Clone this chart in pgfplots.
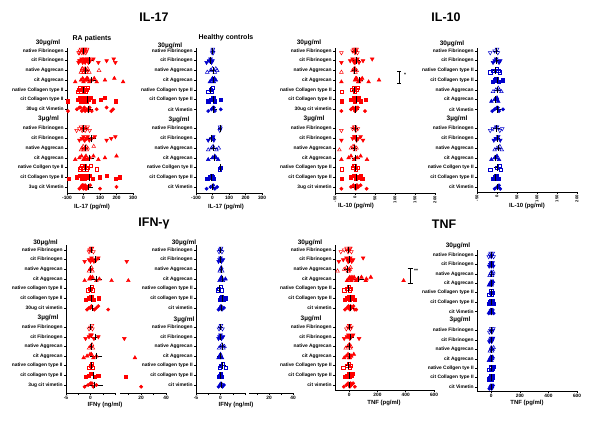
\documentclass[border=0pt]{standalone}
\usepackage{pgfplots}
\pgfplotsset{compat=1.18}
\usepackage{fontspec}
\setmainfont{Liberation Sans}
\definecolor{rd}{RGB}{255,0,0}
\definecolor{bl}{RGB}{0,0,205}
\newcommand\catf{\fontsize{4.9}{5}\selectfont\bfseries}
\newcommand\tkf{\fontsize{4.8}{5}\selectfont\bfseries}
\newcommand\rtf{\fontsize{4.2}{5}\selectfont\bfseries}
\newcommand\labf{\fontsize{6}{7}\selectfont\bfseries}
\newcommand\hdf{\fontsize{6.5}{7}\selectfont\bfseries}
\pgfplotsset{
 gp/.style={scale only axis, anchor=south west, axis x line*=bottom, axis y line*=left,
   tick align=outside, major tick length=2bp, tick style={black, line width=0.5pt},
   axis line style={black, line width=0.6pt}, /pgf/number format/assume math mode=true,
   xticklabel style={font=\tkf, inner sep=1pt}, yticklabel style={font=\catf, inner sep=1.2pt},
   clip=false, ytick={-15,-14,-13,-12,-11,-10,-9,-7,-6,-5,-4,-3,-2,-1}},
 nfib/.style={mark=triangle, mark size=2.15, mark options={rotate=180}},
 cfib/.style={mark=triangle*, mark size=2.15, mark options={rotate=180}},
 nagg/.style={mark=triangle, mark size=2.15},
 cagg/.style={mark=triangle*, mark size=2.15},
 ncol/.style={mark=square, mark size=1.6},
 ccol/.style={mark=square*, mark size=1.6},
 cvim/.style={mark=*, mark size=1.65},
}
\newcommand\R[3]{\addplot[only marks, color=\pc, line width=0.5pt, #2] table[row sep=\\, y expr={-#1+0.18*(mod(\coordindex,3)-1)}]{x\\#3\\};}
\newcommand\M[3]{\addplot[only marks, black, mark=|, mark size=3.3, mark options={line width=0.7pt}, error bars/.cd, x dir=both, x explicit, error mark options={mark size=1.9, line width=0.55pt, black}, error bar style={line width=0.55pt, black}] coordinates {(#2,-#1) +- (#3,0)};}
\begin{document}
\begin{tikzpicture}[x=1bp,y=1bp]
\path[use as bounding box] (0,0) rectangle (600,421);
% ---------- A: IL-17 RA
\def\pc{rd}
\begin{axis}[gp, at={(67bp,228bp)}, width=66bp, height=144.9bp, xmin=-100, xmax=300, ymin=-15.62, ymax=-0.7, xtick={-100,0,100,200,300},
 yticklabels={3ug cit Vimetin, cit Collagen type II, native Collgen tye II, cit Aggrecan, native Aggrecan, cit Fibrinogen, native Fibrinogen, 30ug cit Vimetin, cit Collagen type II, native Collagen type II, cit Aggrecan, native Aggrecan, cit Fibrinogen, native Fibrinogen}]
\R{1}{nfib}{-30\\-22\\-15\\-10\\-6\\-2\\2\\5\\9\\14\\18\\22\\-25\\0\\7}
\R{2}{cfib}{-30\\-20\\-12\\-5\\0\\5\\10\\15\\22\\30\\40\\60\\90\\140\\183\\193\\-25\\33}
\R{3}{nagg}{-15\\-10\\-5\\0\\5\\10\\15\\20\\25\\35\\94\\-8\\3}
\R{4}{cagg}{-50\\-15\\-5\\0\\15\\25\\35\\48\\65\\80\\130\\187\\240\\10\\20}
\R{5}{ncol}{-35\\-28\\-20\\-15\\-10\\-5\\0\\5\\10\\15\\20\\27}
\R{6}{ccol}{-94\\-35\\-25\\-15\\-5\\0\\5\\10\\15\\20\\30\\45\\60\\106\\127\\193\\-10\\25}
\R{7}{cvim}{-94\\-40\\-25\\-10\\0\\5\\10\\20\\37\\50\\80\\140\\168\\179\\-18\\30}
\R{9}{nfib}{-42\\-25\\-15\\-8\\0\\5\\10\\18\\25\\37\\-5\\2}
\R{10}{cfib}{-25\\-10\\0\\8\\15\\25\\35\\50\\68\\140\\168\\193\\5\\20}
\R{11}{nagg}{-15\\-8\\-2\\3\\8\\15\\20\\25\\62\\0\\10}
\R{12}{cagg}{-50\\-25\\-12\\0\\8\\15\\25\\38\\60\\90\\130\\200\\5}
\R{13}{ncol}{-25\\-15\\-8\\0\\5\\10\\18\\25\\42\\79\\-3}
\R{14}{ccol}{-87\\-42\\-25\\-10\\0\\5\\10\\20\\35\\55\\100\\140\\193\\220\\15\\-5}
\R{15}{cvim}{-25\\-15\\-8\\0\\5\\10\\18\\25\\40\\100\\200\\-3\\12}
\M{1}{0}{5}\M{2}{38}{15}\M{3}{13}{7}\M{4}{46}{19}\M{5}{-3}{5}\M{6}{22}{15}\M{7}{30}{18}
\M{9}{1}{6}\M{10}{48}{18}\M{11}{11}{6}\M{12}{37}{18}\M{13}{12}{9}\M{14}{38}{20}\M{15}{28}{16}
\end{axis}
% ---------- B: IL-17 HC
\def\pc{bl}
\begin{axis}[gp, at={(196bp,228bp)}, width=66bp, height=144.9bp, xmin=-100, xmax=300, ymin=-15.62, ymax=-0.7, xtick={-100,0,100,200,300},
 yticklabels={cit Vimetin, cit Collagen type II, native Collgen tye II, cit Aggrecan, native Aggrecan, cit Fibrinogen, native Fibrinogen, cit Vimetin, cit Collagen type II, native Collagen type II, cit Aggrecan, native Aggrecan, cit Fibrinogen, native Fibrinogen}]
\R{1}{nfib}{-2\\0\\2\\4}
\R{2}{cfib}{-36\\-20\\-12\\-6\\0}
\R{3}{nagg}{-32\\-12\\0\\14\\28\\20}
\R{4}{cagg}{-16\\-6\\0\\8\\20\\12}
\R{5}{ncol}{-26\\-12\\0\\-5}
\R{6}{ccol}{-26\\-12\\0\\14\\48\\5}
\R{7}{cvim}{-26\\-6\\4\\14\\50\\8}
\R{9}{nfib}{44\\48\\46}
\R{10}{cfib}{-26\\-6\\4\\8\\0}
\R{11}{nagg}{-26\\-6\\4\\24\\38}
\R{12}{cagg}{-26\\0\\14\\34\\22}
\R{13}{ncol}{44\\48}
\R{14}{ccol}{-32\\-16\\-6\\4\\0}
\R{15}{cvim}{-36\\-12\\4\\14\\28}
\M{1}{1}{1}\M{2}{-15}{6}\M{3}{3}{9}\M{4}{3}{5}\M{5}{-11}{6}\M{6}{5}{10}\M{7}{7}{10}
\M{9}{46}{1}\M{10}{-4}{6}\M{11}{7}{11}\M{12}{9}{10}\M{13}{46}{1}\M{14}{-10}{6}\M{15}{0}{11}
\end{axis}
% ---------- C: IL-10 RA
\def\pc{rd}
\begin{axis}[gp, at={(335bp,228bp)}, width=100bp, height=144.9bp, xmin=-50, xmax=200, ymin=-15.62, ymax=-0.7, xtick={-50,0,50,100,150,200},
 xticklabel style={rotate=90, anchor=east, font=\rtf},
 yticklabels={3ug cit vimetin, cit Collagen type II, native Collagen type II, cit Aggrecan, native Aggrecan, cit Fibrinogen, native Fibrinogen, 30ug cit vimetin, cit Collagen type II, native Collagen type II, cit Aggrecan, native Aggrecan, cit Fibrinogen, native Fibrinogen}]
\R{1}{nfib}{-34\\-6\\-3\\0\\2\\4\\6\\-1\\1}
\R{2}{cfib}{-34\\-12\\-6\\-2\\2\\6\\10\\20\\43\\0\\4}
\R{3}{nagg}{-34\\-6\\-2\\1\\4\\0}
\R{4}{cagg}{-34\\0\\4\\8\\14\\18\\34\\60\\2\\10}
\R{5}{ncol}{-34\\-9\\-4\\0\\4\\6}
\R{6}{ccol}{-34\\-10\\-4\\0\\4\\8\\14\\26\\2}
\R{7}{cvim}{-34\\-10\\-5\\0\\4\\7\\25\\-2\\2}
\R{9}{nfib}{-34\\-6\\-2\\2\\7\\0}
\R{10}{cfib}{-34\\-6\\0\\4\\8\\14\\20\\2\\-2}
\R{11}{nagg}{-39\\-10\\-5\\0\\4\\-2}
\R{12}{cagg}{-34\\-16\\-10\\-2\\6\\14\\30\\2}
\R{13}{ncol}{-34\\-6\\-2\\2\\6\\0}
\R{14}{ccol}{-34\\-10\\-4\\2\\8\\14\\18\\4}
\R{15}{cvim}{-34\\-10\\-4\\2\\8\\14\\29\\0\\5}
\M{1}{0}{2}\M{2}{3}{5}\M{3}{-1}{2}\M{4}{10}{6}\M{5}{-2}{2}\M{6}{3}{4}\M{7}{0}{4}
\M{9}{0}{3}\M{10}{3}{3}\M{11}{-2}{3}\M{12}{2}{5}\M{13}{0}{2}\M{14}{4}{3}\M{15}{2}{4}
\end{axis}
% ---------- D: IL-10 HC
\def\pc{bl}
\begin{axis}[gp, at={(477bp,229bp)}, width=100bp, height=143.9bp, xmin=-50, xmax=200, ymin=-15.51, ymax=-0.7, xtick={-50,0,50,100,150,200},
 xticklabel style={rotate=90, anchor=east, font=\rtf},
 yticklabels={cit Vimetin, cit Collagen type II, native Collgen tye II, cit Aggrecan, native Aggrecan, cit Fibrinogen, native Fibrinogen, cit Vimetin, cit Aggrecan, native Aggrecan, cit Collagen type II, native Collagen type II, cit Fibrinogen, native Fibrinogen}]
\R{1}{nfib}{-17\\-6\\0\\2}
\R{2}{cfib}{-10\\-6\\-2\\5\\8}
\R{3}{ncol}{-17\\-10\\0\\7\\3}
\R{4}{ccol}{-10\\-6\\-2\\5\\15\\0}
\R{5}{nagg}{-10\\-3\\3\\11\\6}
\R{6}{cagg}{-14\\-6\\0\\3\\-2}
\R{7}{cvim}{-12\\-6\\0\\5\\15\\2}
\R{9}{nfib}{-17\\-10\\-2\\7\\13\\0}
\R{10}{cfib}{-8\\-3\\3\\8\\0}
\R{11}{nagg}{-6\\0\\7\\12\\4}
\R{12}{cagg}{-14\\-6\\0\\5\\-2}
\R{13}{ncol}{-17\\0\\7\\10}
\R{14}{ccol}{-10\\-6\\-2\\3\\0}
\R{15}{cvim}{-6\\0\\5\\8\\3}
\M{1}{-2}{3}\M{2}{-1}{3}\M{3}{-3}{4}\M{4}{0}{3}\M{5}{1}{3}\M{6}{-3}{3}\M{7}{1}{4}
\M{9}{-1}{4}\M{10}{0}{2}\M{11}{3}{3}\M{12}{-3}{3}\M{13}{0}{4}\M{14}{-3}{2}\M{15}{2}{2}
\end{axis}
% ---------- E: IFN RA (segment 1)
\def\pc{rd}
\begin{axis}[gp, at={(66bp,28bp)}, width=49bp, height=148bp, xmin=-5, xmax=5, ymin=-15.83, ymax=-0.48,
 xtick={-5,-2.5,0,2.5,5}, xticklabels={-5,,0,,},
 yticklabels={3ug cit vimetin, cit collagen type II, native collagen type II, cit Aggrecan, native Aggrecan, cit Fibrinogen, native Fibrinogen, 30ug cit vimetin, cit collagen type II, native collagen type II, cit Aggrecan, native Aggrecan, cit Fibrinogen, native Fibrinogen}]
\R{1}{nfib}{-0.3\\0\\0.3\\0.6\\-0.2\\0.1}
\R{2}{cfib}{-1.2\\-0.3\\0.2\\0.7\\1.2\\1.6\\0\\0.4}
\R{3}{nagg}{-0.3\\0\\0.2\\0.4\\-0.1}
\R{4}{cagg}{-1.2\\-0.2\\0.4\\1.2\\1.8\\0\\4.3}
\R{5}{ncol}{-0.5\\-0.2\\0.2\\0.5\\0}
\R{6}{ccol}{-1.0\\-0.3\\0.2\\0.7\\1.7\\0}
\R{7}{cvim}{-0.7\\-0.3\\0.2\\0.8\\1.2\\1.6\\3.6\\0}
\R{9}{nfib}{-0.3\\0\\0.3\\0.4}
\R{10}{cfib}{-1.0\\-0.3\\0.2\\0.7\\1.6\\0}
\R{11}{nagg}{-0.3\\0\\0.3\\0.5\\0.1}
\R{12}{cagg}{-1.4\\-0.7\\-0.1\\0.6\\1.2\\0.2}
\R{13}{ncol}{-0.3\\0\\0.3\\0.5}
\R{14}{ccol}{-1.0\\-0.3\\0.2\\0.9\\1.6\\0}
\R{15}{cvim}{-1.2\\-0.5\\0\\0.6\\1.2\\0.3}
\M{1}{0.1}{0.1}\M{2}{0.9}{0.6}\M{3}{0.05}{0.1}\M{4}{1.2}{0.8}\M{5}{0}{0.1}\M{6}{0.2}{0.3}\M{7}{0.4}{0.4}
\M{9}{0.05}{0.1}\M{10}{0.9}{0.5}\M{11}{0.1}{0.1}\M{12}{1.1}{0.9}\M{13}{0.1}{0.1}\M{14}{0.6}{0.5}\M{15}{0.7}{1.4}
\end{axis}
% ---------- E: IFN RA (segment 2)
\begin{axis}[gp, at={(120bp,28bp)}, width=46bp, height=148bp, xmin=3, xmax=40, ymin=-15.83, ymax=-0.48,
 axis y line=none, ytick=\empty, xtick={10,20,30,40}, xticklabels={,20,,40}]
\R{2}{cfib}{8.4}
\R{4}{cagg}{9.7}
\R{10}{cfib}{6.5}
\R{12}{cagg}{15}
\R{14}{ccol}{7.6}
\R{15}{cvim}{20}
\end{axis}
% ---------- F: IFN HC (segment 1)
\def\pc{bl}
\begin{axis}[gp, at={(196bp,28bp)}, width=49bp, height=148bp, xmin=-5, xmax=5, ymin=-15.83, ymax=-0.48,
 xtick={-5,-2.5,0,2.5,5}, xticklabels={-5,,0,,},
 yticklabels={cit vimetin, cit collagen type II, native collagen type II, cit Aggrecan, native Aggrecan, cit Fibrinogen, native Fibrinogen, cit vimetin, cit collagen type II, native collagen type II, cit Aggrecan, native Aggrecan, cit Fibrinogen, native Fibrinogen}]
\R{1}{nfib}{-0.3\\-0.1\\0.1\\0.3\\0}
\R{2}{cfib}{-0.4\\-0.2\\0\\0.2\\0.5}
\R{3}{nagg}{-0.15\\0\\0.15\\0.35}
\R{4}{cagg}{-0.2\\0\\0.2\\0.5\\1.0}
\R{5}{ncol}{-0.55\\-0.3\\0\\0.25}
\R{6}{ccol}{-0.15\\0.1\\0.3\\0.6\\1.1}
\R{7}{cvim}{-0.4\\-0.1\\0.1\\0.3\\0.7}
\R{9}{nfib}{-0.3\\-0.1\\0.1\\0.4}
\R{10}{cfib}{-0.4\\-0.2\\0\\0.2\\0.5}
\R{11}{nagg}{-0.3\\0\\0.3\\0.6\\0.8}
\R{12}{cagg}{-0.4\\-0.2\\0\\0.3}
\R{13}{ncol}{-0.15\\0.1\\0.5\\1.1}
\R{14}{ccol}{-0.3\\-0.1\\0.1\\0.3}
\R{15}{cvim}{-0.4\\-0.1\\0.1\\0.4\\0.7}
\M{1}{0}{0.1}\M{2}{0}{0.15}\M{3}{0.1}{0.1}\M{4}{0.3}{0.2}\M{5}{-0.15}{0.15}\M{6}{0.4}{0.2}\M{7}{0.1}{0.2}
\M{9}{0}{0.15}\M{10}{0}{0.15}\M{11}{0.3}{0.2}\M{12}{-0.1}{0.15}\M{13}{0.4}{0.25}\M{14}{0}{0.1}\M{15}{0.1}{0.2}
\end{axis}
% ---------- F: IFN HC (segment 2)
\begin{axis}[gp, at={(249bp,28bp)}, width=44bp, height=148bp, xmin=3.3, xmax=40, ymin=-15.83, ymax=-0.48,
 axis y line=none, ytick=\empty, xtick={10,20,30,40}, xticklabels={,20,,40}]
\addplot[draw=none] coordinates {(20,-8)};
\end{axis}
% ---------- G: TNF RA
\def\pc{rd}
\begin{axis}[gp, at={(335bp,31bp)}, width=99bp, height=144.8bp, xmin=-100, xmax=600, ymin=-15.52, ymax=-0.5, xtick={0,200,400,600},
 yticklabels={cit vimetin, cit Collagen type II, native Collagen type II, cit Aggrecan, native Aggrecan, cit Fibrinogen, native Fibrinogen, cit vimetin, cit Collagen type II, native Collagen type II, cit Aggrecan, native Aggrecan, cit Fibrinogen, native Fibrinogen}]
\R{1}{nfib}{-59\\-35\\-18\\-8\\0\\8\\16\\-4\\4}
\R{2}{cfib}{-73\\-42\\-19\\-8\\0\\8\\18\\28\\99\\-3\\5}
\R{3}{nagg}{-82\\-35\\-18\\-8\\0\\10\\-3\\4}
\R{4}{cagg}{-15\\-5\\5\\15\\25\\35\\50\\60\\87\\117\\122\\153\\385\\10\\20}
\R{5}{ncol}{-35\\-15\\-5\\3\\12\\0}
\R{6}{ccol}{-30\\-15\\-5\\5\\15\\25\\40\\0\\10}
\R{7}{cvim}{-30\\-15\\-5\\5\\15\\30\\50\\0\\10\\40}
\R{9}{nfib}{-20\\-8\\0\\8\\16\\3}
\R{10}{cfib}{-35\\-15\\-5\\5\\15\\28\\70\\0}
\R{11}{nagg}{-25\\-10\\0\\8\\12\\3}
\R{12}{cagg}{-35\\-20\\-8\\5\\15\\33\\0\\10}
\R{13}{ncol}{-42\\-15\\-5\\3\\12\\0}
\R{14}{ccol}{-30\\-15\\-5\\5\\15\\28\\0}
\R{15}{cvim}{-38\\-20\\-8\\5\\15\\28\\40\\0\\10}
\M{1}{-8}{8}\M{2}{1}{13}\M{3}{-15}{11}\M{4}{67}{26}\M{5}{-7}{7}\M{6}{5}{7}\M{7}{10}{8}
\M{9}{0}{5}\M{10}{8}{11}\M{11}{-2}{5}\M{12}{0}{7}\M{13}{-8}{7}\M{14}{0}{7}\M{15}{4}{8}
\end{axis}
% ---------- H: TNF HC
\def\pc{bl}
\begin{axis}[gp, at={(477bp,30bp)}, width=100bp, height=141bp, xmin=-100, xmax=600, ymin=-15.42, ymax=-0.47, xtick={0,200,400,600},
 yticklabels={cit Vimetin, cit Collagen type II, native Collgen tye II, cit Aggrecan, native Aggrecan, cit Fibrinogen, native Fibrinogen, cit Vimetin, cit Collagen type II, native Collagen type II, cit Aggrecan, native Aggrecan, cit Fibrinogen, native Fibrinogen}]
\R{1}{nfib}{-18\\-10\\-4\\0\\4\\10\\16}
\R{2}{cfib}{-15\\-8\\-3\\0\\4\\9\\14}
\R{3}{nagg}{-12\\-6\\0\\5\\10\\14}
\R{4}{cagg}{-16\\-8\\-2\\2\\6\\12}
\R{5}{ncol}{-14\\-6\\0\\4\\10}
\R{6}{ccol}{-18\\-10\\-4\\0\\4\\10\\16}
\R{7}{cvim}{-18\\-10\\-4\\0\\4\\10\\16}
\R{9}{nfib}{-14\\-6\\0\\4\\10\\14}
\R{10}{cfib}{-14\\-8\\-2\\2\\8\\12}
\R{11}{nagg}{-10\\-4\\0\\5\\10\\16}
\R{12}{cagg}{-16\\-10\\-4\\0\\6\\10}
\R{13}{ncol}{-14\\-6\\0\\5\\10\\18}
\R{14}{ccol}{-14\\-8\\-2\\2\\8\\12}
\R{15}{cvim}{-14\\-8\\-2\\2\\8\\12}
\M{1}{0}{4}\M{2}{0}{3}\M{3}{2}{3}\M{4}{-1}{4}\M{5}{-1}{4}\M{6}{0}{4}\M{7}{0}{4}
\M{9}{1}{4}\M{10}{0}{4}\M{11}{3}{4}\M{12}{-2}{4}\M{13}{2}{4}\M{14}{0}{3}\M{15}{0}{3}
\end{axis}
% ---------- texts
\begin{scope}[every node/.style={inner sep=0pt}]
\node[font=\fontsize{12.5}{14}\selectfont\bfseries] at (154,404) {IL-17};
\node[font=\fontsize{12.5}{14}\selectfont\bfseries] at (446,404) {IL-10};
\node[font=\fontsize{12.5}{14}\selectfont\bfseries] at (154,197) {IFN-γ};
\node[font=\fontsize{12.5}{14}\selectfont\bfseries] at (444,197) {TNF};
\node[font=\fontsize{7}{8}\selectfont\bfseries] at (92,382) {RA patients};
\node[font=\fontsize{7}{8}\selectfont\bfseries] at (226,383) {Healthy controls};
\node[font=\hdf] at (48,378) {30µg/ml};   \node[font=\hdf] at (48.5,302.5) {3µg/ml};
\node[font=\hdf] at (170,375) {30µg/ml};  \node[font=\hdf] at (179,301) {3µg/ml};
\node[font=\hdf] at (309,378) {30µg/ml};  \node[font=\hdf] at (314,302) {3µg/ml};
\node[font=\hdf] at (452,377) {30µg/ml};  \node[font=\hdf] at (457,302) {3µg/ml};
\node[font=\hdf] at (45.5,178) {30µg/ml}; \node[font=\hdf] at (48,103) {3µg/ml};
\node[font=\hdf] at (184,178) {30µg/ml};  \node[font=\hdf] at (184,101) {3µg/ml};
\node[font=\hdf] at (310,178) {30µg/ml};  \node[font=\hdf] at (311,102) {3µg/ml};
\node[font=\hdf] at (458,175) {30µg/ml};  \node[font=\hdf] at (460,101) {3µg/ml};
\node[font=\labf] at (92,214) {IL-17 (pg/ml)};
\node[font=\labf] at (226,214) {IL-17 (pg/ml)};
\node[font=\labf] at (356,215) {IL-10 (pg/ml)};
\node[font=\labf] at (527,215) {IL-10 (pg/ml)};
\node[font=\labf] at (105,16) {IFNγ (ng/ml)};
\node[font=\labf] at (236,16) {IFNγ (ng/ml)};
\node[font=\labf] at (384,18) {TNF (pg/ml)};
\node[font=\labf] at (527,18) {TNF (pg/ml)};
\draw[line width=0.7pt] (399,350) -- (399,338) (397,350) -- (401,350) (397,338) -- (401,338);
\node[font=\fontsize{5}{5}\selectfont\bfseries] at (405,346) {*};
\draw[line width=0.7pt] (410,153) -- (410,138) (407.5,153) -- (412.5,153) (407.5,138) -- (412.5,138);
\node[font=\fontsize{5}{5}\selectfont\bfseries] at (416,150) {**};
\end{scope}
\end{tikzpicture}
\end{document}
